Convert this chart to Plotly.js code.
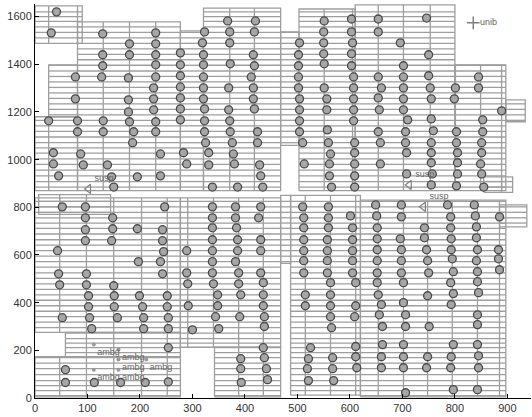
<!DOCTYPE html>
<html><head><meta charset="utf-8">
<script src="https://cdn.plot.ly/plotly-3.0.1.min.js"></script>
<style>html,body{margin:0;padding:0;background:#fff}</style>
</head><body><div id="chart" style="width:532px;height:417px"></div>
<script>
// ---- circle (tile centre) markers ----
const ptX = [
 41,31,129,230,180,230,129,180,230,129,230,77,127,178,230,226,77,178,226,178,226,26,81,130,180,230,81,130,188,230,
 367,420,323,371,418,551,603,319,371,504,550,603,550,605,277,321,416,502,550,603,277,321,372,418,502,551,603,277,321,412,
 502,607,277,321,369,416,502,551,607,277,321,416,504,556,607,277,323,369,418,504,556,607,277,323,371,504,607,323,372,424,504,557,
 654,746,654,696,750,702,654,702,750,845,660,702,753,801,845,654,702,755,799,656,702,889,710,755,853,654,706,759,803,853,
 186,239,35,87,35,92,138,45,146,195,239,150,52,96,247,96,148,96,148,195,243,96,146,243,43,245,197,239,45,98,243,
 325,376,424,510,559,609,283,331,378,563,609,289,331,380,428,513,561,609,430,561,609,338,386,434,565,609,338,382,430,510,559,
 338,382,426,512,559,601,338,384,512,559,605,338,386,430,512,557,605,289,338,386,430,512,557,605,338,382,512,557,605,
 289,338,388,430,512,557,605,
 658,706,755,803,851,708,755,805,851,658,755,805,849,708,757,805,851,755,803,855,649,698,786,837,651,698,792,839,885,
 652,742,792,841,652,696,742,793,841,652,698,746,793,843,883,652,698,748,795,841,883,652,698,750,797,843,885,
 47,98,150,102,151,199,252,102,151,205,252,52,104,157,207,254,108,207,254,254,58,58,113,163,210,254,
 291,340,388,435,563,611,348,392,435,515,563,292,348,435,515,563,611,344,390,437,563,609,300,350,437,565,435,525,611,
 392,437,521,567,611,392,441,519,567,613,393,443,521,569,
 652,702,792,843,654,748,797,845,660,702,793,656,706,843,662,706,751,843,662,702,797,843,660,702,748,793,845,
 660,702,746,792,845,706,797,843
];
const ptY = [
 1620,1532,1528,1532,1486,1486,1440,1440,1440,1394,1398,1347,1347,1343,1347,1301,1255,1251,1255,1200,1209,1163,1163,1163,1159,1159,1117,1117,1117,1117,
 1582,1582,1536,1536,1536,1582,1590,1490,1490,1490,1536,1536,1490,1490,1448,1440,1440,1440,1444,1444,1398,1398,1402,1394,1394,1402,1394,1352,1347,1347,
 1347,1347,1305,1301,1301,1301,1301,1301,1301,1259,1255,1255,1255,1255,1255,1213,1213,1209,1213,1209,1209,1209,1167,1163,1163,1163,1163,1117,1117,1117,1117,1125,
 1590,1594,1536,1490,1440,1394,1347,1347,1352,1347,1301,1301,1301,1301,1301,1259,1255,1255,1255,1209,1209,1205,1167,1171,1167,1117,1117,1121,1117,1117,
 1071,1024,1029,1024,982,978,978,932,928,928,932,885,802,802,802,756,756,706,710,710,706,660,660,660,618,614,572,572,521,521,521,
 1071,1071,1071,1071,1071,1071,1029,1029,1024,1024,1029,982,978,982,978,982,982,982,932,932,932,885,885,885,885,885,802,802,802,802,802,
 756,756,756,756,756,764,714,714,714,714,714,664,664,664,664,664,664,618,618,618,618,618,618,618,572,572,576,576,576,
 525,525,525,525,525,525,525,
 1071,1071,1071,1071,1071,1029,1029,1029,1029,982,987,987,982,940,940,940,940,894,890,885,810,810,810,810,764,760,760,764,760,
 714,714,714,718,668,668,672,668,672,622,622,622,622,622,622,576,576,576,584,576,584,525,525,525,530,530,538,
 475,475,471,429,429,429,429,383,383,383,383,337,337,337,337,337,291,291,291,211,119,65,65,65,65,68,
 479,479,479,484,484,484,433,433,433,433,433,387,387,387,387,387,387,341,341,341,341,341,286,291,300,295,211,211,216,
 165,169,165,169,173,123,123,123,123,127,65,77,73,73,
 484,484,484,488,433,429,438,442,392,400,392,349,349,349,300,300,300,308,224,224,224,224,173,173,173,173,177,
 127,127,127,127,127,22,35,35
];

// ---- tile columns (x of vertical tile edges) and tile rows (y of horizontal edges) ----
const colTop = [26,81,130,180,230,277,321,371,418,468,503,551,605,654,702,753,801,849,889];
const colBot = [47,98,150,203,252,291,340,388,435,487,515,563,611,654,702,748,795,843,885];
const rowTop = [1620,1600,1580,1557,1534,1511,1488,1465,1442,1419,1396,1372,1349,1326,1303,1280,1257,1234,1211,1188,1165,1142,1119,1095,1071,1049,1027,1003,980,956,932,908,885];
const rowBot = [825,802,779,756,734,712,688,664,641,618,595,572,549,525,502,479,456,433,410,387,364,341,318,295,272,249,230,211,190,169,146,123,98,73,52,31,10];

// ---- tiled blocks of the mosaic ----
const blkHalf = ['t','t','t','t','t','t','t','t','t','t','t','t','b','b','b','b','b','b','b','b','b','b'];
const blkX0 = [0,26,0,81,277,321,468,503,610,800,897,855, 7,0,58,0,277,342,487,468,620,885];
const blkX1 = [90,81,81,277,321,468,503,610,800,897,934,910, 144,277,277,277,468,468,620,487,897,937];
const blkY0 = [1488,1180,870,870,870,870,1060,870,870,870,1159,863, 770,275,173,5,213,5,12,565,5,718];
const blkY1 = [1645,1398,1180,1578,1540,1636,1536,1632,1649,1398,1251,928, 853,840,275,173,840,213,850,850,830,810];

// ---- flagged points ----
const ambgX = [112,159,159,212,112,159];
const ambgY = [224,203,161,161,119,119];
const ambgTxt = ['ambg','ambg','ambg','ambg','ambg','ambg'];
const suspX = [102,713,740];
const suspY = [877,894,802];
const suspTxt = ['susp','susp','susp'];
const unibX = [835];
const unibY = [1574];
const unibTxt = ['unib'];

const xTicks = [0,100,200,300,400,500,600,700,800,900];
const yTicks = [0,200,400,600,800,1000,1200,1400,1600];

// build tile line segments from the blocks
const lx = [], ly = [];
for (let i = 0; i < blkX0.length; i++) {
  const x0 = blkX0[i], x1 = blkX1[i], y0 = blkY0[i], y1 = blkY1[i];
  const cols = blkHalf[i] === 't' ? colTop : colBot;
  const rows = blkHalf[i] === 't' ? rowTop : rowBot;
  lx.push(x0, x1, x1, x0, x0, null); ly.push(y0, y0, y1, y1, y0, null);
  rows.forEach(r => { if (r > y0 && r < y1) { lx.push(x0, x1, null); ly.push(r, r, null); } });
  cols.forEach(c => { if (c > x0 && c < x1) { lx.push(c, c, null); ly.push(y0, y1, null); } });
}

const lblFont = () => ({family: 'Liberation Sans, Arial, sans-serif', size: 9, color: '#666666'});
const data = [
  {type: 'scatter', mode: 'lines', x: lx, y: ly, connectgaps: false,
   line: {color: '#9e9e9e', width: 1.3}, hoverinfo: 'skip'},
  {type: 'scatter', mode: 'markers', x: ptX, y: ptY,
   marker: {symbol: 'circle', size: 8, color: '#a6a6a6', line: {color: '#4a4a4a', width: 1.3}}},
  {type: 'scatter', mode: 'markers+text', x: ambgX, y: ambgY, text: ambgTxt, textposition: 'bottom right',
   marker: {symbol: 'circle', size: 4, color: '#9a9a9a'}, textfont: lblFont()},
  {type: 'scatter', mode: 'markers+text', x: suspX, y: suspY, text: suspTxt, textposition: 'top right',
   marker: {symbol: 'triangle-left-open', size: 8, color: '#808080', line: {width: 1.2, color: '#808080'}}, textfont: lblFont()},
  {type: 'scatter', mode: 'markers+text', x: unibX, y: unibY, text: unibTxt, textposition: 'middle right',
   marker: {symbol: 'cross-thin-open', size: 9, color: '#808080', line: {width: 1.5, color: '#808080'}}, textfont: lblFont()}
];

const axFont = {family: 'Liberation Sans, Arial, sans-serif', size: 11, color: '#333'};
const layout = {
  width: 532, height: 417,
  margin: {l: 35, r: 1, t: 4, b: 19},
  paper_bgcolor: '#fff', plot_bgcolor: '#fff',
  showlegend: false,
  xaxis: {range: [0, 945], showgrid: false, zeroline: false, showline: true, linecolor: '#000', linewidth: 1,
          ticks: 'inside', ticklen: 4, tickcolor: '#000', tickvals: xTicks, tickfont: axFont},
  yaxis: {range: [0, 1653], showgrid: false, zeroline: false, showline: true, linecolor: '#000', linewidth: 1,
          ticks: 'inside', ticklen: 4, tickcolor: '#000', tickvals: yTicks, tickfont: {family: 'Liberation Sans, Arial, sans-serif', size: 11, color: '#333'}}
};
Plotly.newPlot('chart', data, layout, {staticPlot: true, displayModeBar: false});
</script></body></html>
